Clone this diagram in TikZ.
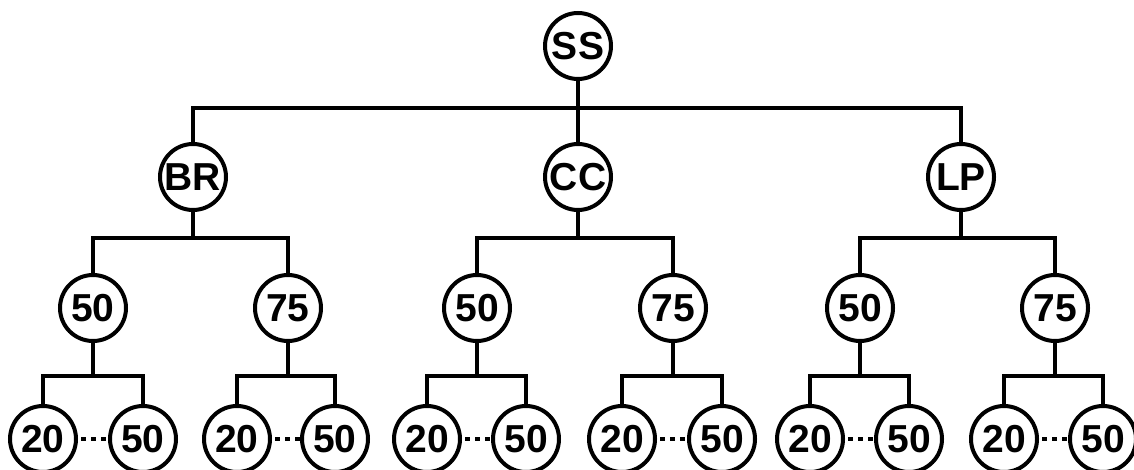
\documentclass[tikz,border=0pt]{standalone}
\usepackage{fontspec}
\setsansfont{Liberation Sans}
\usepackage{tikz}

\tikzset{
  every node/.style={draw, circle, line width=4pt, minimum size=66pt, inner sep=0pt,
    font=\sffamily\bfseries\fontsize{39}{39}\selectfont},
  link/.style={line width=4pt},
  dotrange/.style={line width=4pt, dash pattern=on 5pt off 5pt, dash phase=7pt}
}

\begin{document}
\begin{tikzpicture}[node distance=131pt]
  \useasboundingbox (0,0) rectangle (1134pt,-470pt);

  \node (ss) at (578pt,-46pt) {SS};
  \node (br) [below of=ss, xshift=-385pt] {BR};
  \node (cc) [below of=ss] {CC};
  \node (lp) [below of=ss, xshift=383pt] {LP};

  \node (br50) [below of=br, xshift=-100pt] {50};
  \node (br75) [below of=br, xshift=95pt] {75};
  \node (cc50) [below of=cc, xshift=-101pt] {50};
  \node (cc75) [below of=cc, xshift=95pt] {75};
  \node (lp50) [below of=lp, xshift=-101pt] {50};
  \node (lp75) [below of=lp, xshift=94pt] {75};

  \node (br50lo) [below of=br50, xshift=-50pt] {20};
  \node (br50hi) [below of=br50, xshift=50pt] {50};
  \node (br75lo) [below of=br75, xshift=-51pt] {20};
  \node (br75hi) [below of=br75, xshift=47pt] {50};
  \node (cc50lo) [below of=cc50, xshift=-50pt] {20};
  \node (cc50hi) [below of=cc50, xshift=49pt] {50};
  \node (cc75lo) [below of=cc75, xshift=-51pt] {20};
  \node (cc75hi) [below of=cc75, xshift=49pt] {50};
  \node (lp50lo) [below of=lp50, xshift=-50pt] {20};
  \node (lp50hi) [below of=lp50, xshift=49pt] {50};
  \node (lp75lo) [below of=lp75, xshift=-51pt] {20};
  \node (lp75hi) [below of=lp75, xshift=48pt] {50};

  % top level
  \draw[link] (ss) -- ++(0,-62pt) -| (br);
  \draw[link] (ss) -- ++(0,-62pt) -| (lp);
  \draw[link] (ss) -- (cc);

  % second level
  \draw[link] (br) -- ++(0,-61pt) -| (br50);
  \draw[link] (br) -- ++(0,-61pt) -| (br75);
  \draw[link] (cc) -- ++(0,-61pt) -| (cc50);
  \draw[link] (cc) -- ++(0,-61pt) -| (cc75);
  \draw[link] (lp) -- ++(0,-61pt) -| (lp50);
  \draw[link] (lp) -- ++(0,-61pt) -| (lp75);

  % leaves
  \draw[link] (br50) -- ++(0,-68pt) -| (br50lo);
  \draw[link] (br50) -- ++(0,-68pt) -| (br50hi);
  \draw[link] (br75) -- ++(0,-68pt) -| (br75lo);
  \draw[link] (br75) -- ++(0,-68pt) -| (br75hi);
  \draw[link] (cc50) -- ++(0,-68pt) -| (cc50lo);
  \draw[link] (cc50) -- ++(0,-68pt) -| (cc50hi);
  \draw[link] (cc75) -- ++(0,-68pt) -| (cc75lo);
  \draw[link] (cc75) -- ++(0,-68pt) -| (cc75hi);
  \draw[link] (lp50) -- ++(0,-68pt) -| (lp50lo);
  \draw[link] (lp50) -- ++(0,-68pt) -| (lp50hi);
  \draw[link] (lp75) -- ++(0,-68pt) -| (lp75lo);
  \draw[link] (lp75) -- ++(0,-68pt) -| (lp75hi);

  % dotted ranges
  \draw[dotrange] (br50lo) -- (br50hi);
  \draw[dotrange] (br75lo) -- (br75hi);
  \draw[dotrange] (cc50lo) -- (cc50hi);
  \draw[dotrange] (cc75lo) -- (cc75hi);
  \draw[dotrange] (lp50lo) -- (lp50hi);
  \draw[dotrange] (lp75lo) -- (lp75hi);
\end{tikzpicture}
\end{document}
